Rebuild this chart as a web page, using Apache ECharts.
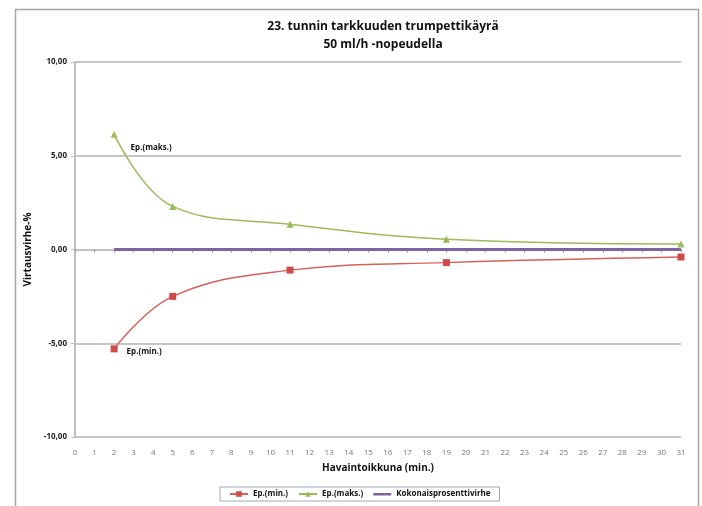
<!DOCTYPE html>
<html><head><meta charset="utf-8">
<script src="https://cdn.jsdelivr.net/npm/echarts@6/dist/echarts.min.js"></script>
<style>html,body{margin:0;padding:0;background:#fff}#c{width:702px;height:506px}</style>
</head><body><div id="c"></div>
<script>
const xValues = [2, 5, 11, 19, 31];
const epMin = [-5.3, -2.5, -1.1, -0.7, -0.4];
const epMaks = [6.15, 2.3, 1.35, 0.55, 0.3];
const kokonais = [0, 0, 0, 0, 0];
const seriesNames = ['Ep.(min.)', 'Ep.(maks.)', 'Kokonaisprosenttivirhe'];
const titleLines = ['23. tunnin tarkkuuden trumpettikäyrä', '50 ml/h -nopeudella'];
const xTitle = 'Havaintoikkuna (min.)';
const yTitle = 'Virtausvirhe-%';

const FONT = '"Open Sans", "Noto Sans", sans-serif';
function pairs(vals, labelOpt) {
  return xValues.map((x, i) => {
    const d = { value: [x, vals[i]] };
    if (labelOpt && i === 0) d.label = labelOpt;
    return d;
  });
}
const lineIcon = 'path://M0,0L0.01,0M0,2.5L18,2.5L18,5L0,5ZM18,7L17.99,7';
const chart = echarts.init(document.getElementById('c'), null, { renderer: 'canvas' });
chart.setOption({
  animation: false,
  backgroundColor: '#fff',
  graphic: [{
    type: 'rect', left: 13, top: 7, shape: { width: 683, height: 520 },
    style: { fill: 'none', stroke: '#a6a6a6', lineWidth: 1.5 }, z: -1
  }],
  title: {
    text: titleLines.join('\n'),
    left: 378, top: 13, textAlign: 'center',
    textStyle: { fontFamily: FONT, fontSize: 12, fontWeight: 'bold', color: '#111', lineHeight: 18 }
  },
  grid: { left: 75, right: 21, top: 62, bottom: 69 },
  legend: {
    bottom: 5, left: 220,
    data: [{ name: seriesNames[0] }, { name: seriesNames[1] }, { name: seriesNames[2], icon: lineIcon }],
    itemWidth: 18, itemHeight: 7, itemGap: 10,
    borderColor: '#9aa9c6', borderWidth: 1, padding: [3, 9],
    textStyle: { fontFamily: FONT, fontSize: 8, fontWeight: 'bold', color: '#111' }
  },
  xAxis: [{
    type: 'value', min: 0, max: 31, interval: 1,
    name: xTitle, nameLocation: 'middle', nameGap: 26,
    nameTextStyle: { fontFamily: FONT, fontSize: 10, fontWeight: 'bold', color: '#111' },
    axisLine: { show: false, onZero: false },
    axisTick: { show: false },
    splitLine: { show: false },
    axisLabel: { fontFamily: FONT, fontSize: 8, color: '#777', margin: 12 }
  }, {
    type: 'value', min: 0, max: 31, interval: 1, position: 'bottom',
    axisLine: { show: true, onZero: true, lineStyle: { color: '#bfbfbf', width: 2 } },
    axisTick: { show: true, length: 3, lineStyle: { color: '#999' } },
    axisLabel: { show: false },
    splitLine: { show: false }
  }],
  yAxis: {
    type: 'value', min: -10, max: 10, interval: 5,
    name: yTitle, nameLocation: 'middle', nameGap: 40, nameRotate: 90,
    nameTextStyle: { fontFamily: FONT, fontSize: 10, fontWeight: 'bold', color: '#111' },
    axisLine: { show: true, lineStyle: { color: '#bfbfbf', width: 2 } },
    axisTick: { show: true, length: 4, lineStyle: { color: '#bfbfbf' } },
    splitLine: { show: true, lineStyle: { color: '#c6c6c6', width: 2 } },
    axisLabel: {
      fontFamily: FONT, fontSize: 8, fontWeight: 'bold', color: '#222', margin: 8,
      formatter: v => v.toFixed(2).replace('.', ',')
    }
  },
  series: [{
    name: seriesNames[0], type: 'line', smooth: 0.4, xAxisIndex: 0,
    data: pairs(epMin, { show: true, position: 'right', offset: [4, 3], formatter: seriesNames[0],
      fontFamily: FONT, fontSize: 8, fontWeight: 'bold', color: '#111' }),
    symbol: 'rect', symbolSize: 7,
    lineStyle: { color: '#d9605c', width: 1.5 },
    itemStyle: { color: '#d04a48' }, z: 3
  }, {
    name: seriesNames[1], type: 'line', smooth: 0.4, xAxisIndex: 0,
    data: pairs(epMaks, { show: true, position: 'right', offset: [8, 14], formatter: seriesNames[1],
      fontFamily: FONT, fontSize: 8, fontWeight: 'bold', color: '#111' }),
    symbol: 'triangle', symbolSize: 7,
    lineStyle: { color: '#9bbb59', width: 1.5 },
    itemStyle: { color: '#9bbb59' }, z: 3
  }, {
    name: seriesNames[2], type: 'line', xAxisIndex: 0,
    data: pairs(kokonais, null),
    symbol: 'none', showSymbol: false,
    lineStyle: { color: '#8064a2', width: 3 },
    itemStyle: { color: '#8064a2' }, z: 2
  }]
});
</script></body></html>
